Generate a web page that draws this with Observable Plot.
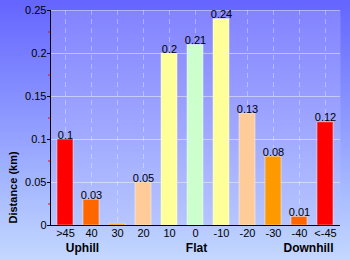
<!DOCTYPE html>
<html>
<head>
<meta charset="utf-8">
<script src="https://cdn.jsdelivr.net/npm/d3@7"></script>
<script src="https://cdn.jsdelivr.net/npm/@observablehq/plot@0.6"></script>
<style>
  html, body { margin: 0; padding: 0; }
  #chart { width: 350px; height: 260px; background: linear-gradient(to bottom, #6464ff 0%, #a9bcff 75%, #c4d8ff 100%); }
  svg { display: block; }
</style>
</head>
<body>
<div id="chart"></div>
<script>
const categories = [">45", "40", "30", "20", "10", "0", "-10", "-20", "-30", "-40", "<-45"];
const distances = [0.1, 0.03, 0.002, 0.05, 0.2, 0.21, 0.24, 0.13, 0.08, 0.01, 0.12];
const barColors = ["#ff0000", "#ff6600", "#ff9900", "#ffcc99", "#ffff99", "#ccffcc", "#ffff99", "#ffcc99", "#ff9900", "#ff6600", "#ff0000"];
const yTicks = [0, 0.05, 0.1, 0.15, 0.2, 0.25];
const yMinorTicks = [0.025, 0.075, 0.125, 0.175, 0.225];
const yLabel = "Distance (km)";
const groupLabels = ["Uphill", "Flat", "Downhill"];
const groupAnchors = [">45", "0", "<-45"];

const data = categories.map((c, i) => ({cat: c, value: distances[i], color: barColors[i]}));
const font = "Liberation Sans, Arial, sans-serif";
const groupOffsets = [17, 1, -17];

const groupMarks = groupLabels.map((g, i) =>
  Plot.text([g], {x: () => groupAnchors[i], text: d => d, frameAnchor: "bottom", dx: groupOffsets[i], dy: 26, fontWeight: "bold", fontSize: 12, fill: "#000"})
);

const chart = Plot.plot({
  width: 350,
  height: 260,
  marginLeft: 50,
  marginRight: 10,
  marginTop: 10,
  marginBottom: 35,
  style: {background: "transparent", fontFamily: font, fontSize: "11px", color: "#000"},
  x: {domain: categories, paddingInner: 0.39, paddingOuter: 0.19, label: null},
  y: {domain: [0, 0.25], label: null},
  marks: [
    Plot.frame({fill: "url(#plotAreaGrad)", stroke: null}),
    Plot.gridY(yTicks, {stroke: "#ffffff", strokeOpacity: 0.45}),
    Plot.gridX(categories, {stroke: "#ffffff", strokeOpacity: 0.35, strokeDasharray: "5,4"}),
    Plot.barY(data, {x: "cat", y: "value", fill: "color", stroke: "#ffffff", strokeOpacity: 0.45, strokeWidth: 1}),
    Plot.text(data.filter(d => d.value >= 0.005), {x: "cat", y: "value", text: d => String(d.value), lineAnchor: "bottom", dy: -1, fontSize: 11, fill: "#000"}),
    Plot.axisY(yTicks, {tickSize: 3, tickPadding: 1, tickFormat: d => String(d), fontSize: 11, label: null, stroke: "#000"}),
    Plot.axisY(yMinorTicks, {tickSize: 2, text: null, stroke: "#ff0000", label: null}),
    Plot.axisX({tickSize: 0, tickPadding: 4, fontSize: 11, label: null}),
    Plot.frame({anchor: "left", stroke: "#000"}),
    Plot.ruleY([0], {stroke: "#000"}),
    ...groupMarks,
    Plot.text([yLabel], {frameAnchor: "bottom-left", dx: -34, dy: -2, rotate: -90, textAnchor: "start", fontWeight: "bold", fontSize: 11, fill: "#000"})
  ]
});

const svg = d3.select(chart);
const defs = svg.insert("defs", ":first-child");
const grad = defs.append("linearGradient").attr("id", "plotAreaGrad").attr("x1", 0).attr("y1", 0).attr("x2", 0).attr("y2", 1);
grad.append("stop").attr("offset", "0%").attr("stop-color", "#8383ff");
grad.append("stop").attr("offset", "100%").attr("stop-color", "#b6c6ff");

document.getElementById("chart").appendChild(chart);
</script>
</body>
</html>
